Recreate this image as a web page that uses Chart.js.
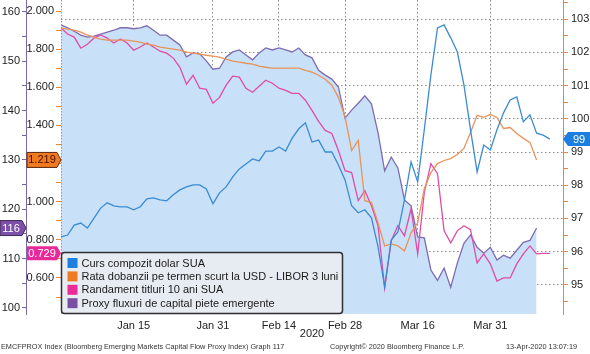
<!DOCTYPE html>
<html><head><meta charset="utf-8">
<script src="https://cdn.jsdelivr.net/npm/chart.js@4.4.0/dist/chart.umd.min.js"></script>
<style>html,body{margin:0;padding:0;background:#fff;overflow:hidden}#wrap{position:relative;width:590px;height:354px}</style>
</head><body><div id="wrap"><canvas id="c" width="590" height="354"></canvas></div>
<script>
// ---- categories (weekdays) ----
const dates = ["Dec 31","Jan 1","Jan 2","Jan 3","Jan 6","Jan 7","Jan 8","Jan 9","Jan 10","Jan 13","Jan 14","Jan 15","Jan 16","Jan 17","Jan 20","Jan 21","Jan 22","Jan 23","Jan 24","Jan 27","Jan 28","Jan 29","Jan 30","Jan 31","Feb 3","Feb 4","Feb 5","Feb 6","Feb 7","Feb 10","Feb 11","Feb 12","Feb 13","Feb 14","Feb 17","Feb 18","Feb 19","Feb 20","Feb 21","Feb 24","Feb 25","Feb 26","Feb 27","Feb 28","Mar 2","Mar 3","Mar 4","Mar 5","Mar 6","Mar 9","Mar 10","Mar 11","Mar 12","Mar 13","Mar 16","Mar 17","Mar 18","Mar 19","Mar 20","Mar 23","Mar 24","Mar 25","Mar 26","Mar 27","Mar 30","Mar 31","Apr 1","Apr 2","Apr 3","Apr 6","Apr 7","Apr 8","Apr 9","Apr 10","Apr 13","Apr 14","Apr 15"];
const tickLabels = ["Jan 15","Jan 31","Feb 14","Feb 28","Mar 16","Mar 31"];
const axisYearLabel = "2020";

// ---- series values ----
const usdIndex = [96.44,96.50,96.80,96.86,96.71,97.01,97.31,97.47,97.38,97.35,
97.35,97.26,97.35,97.59,97.62,97.56,97.53,97.71,97.86,97.95,
98.01,98.01,97.89,97.44,97.77,97.95,98.25,98.49,98.64,98.79,
98.73,99.03,99.03,99.15,99.03,99.42,99.70,99.88,99.30,99.36,
99.00,99.00,98.61,98.16,97.38,97.17,97.26,97.02,96.14,94.94,
96.35,96.59,97.56,98.70,98.10,99.67,101.32,102.74,102.83,102.44,
102.02,101.02,99.67,98.40,99.21,99.06,99.67,100.18,100.57,100.66,
99.91,100.12,99.57,99.51,99.39];
const libor3m = [1.911,1.905,1.900,1.889,1.874,1.863,1.853,1.847,1.847,1.847,
1.847,1.842,1.837,1.826,1.821,1.810,1.805,1.800,1.795,1.784,
1.779,1.774,1.768,1.763,1.758,1.747,1.737,1.732,1.726,1.721,
1.711,1.705,1.700,1.700,1.700,1.700,1.700,1.689,1.679,1.663,
1.642,1.611,1.547,1.447,1.268,1.321,1.005,0.995,0.889,0.768,
0.779,0.768,0.742,0.837,0.889,1.068,1.153,1.200,1.216,1.226,
1.247,1.279,1.363,1.453,1.442,1.458,1.442,1.384,1.389,1.358,
1.332,1.311,1.219];
const ust10y = [1.911,1.879,1.863,1.805,1.826,1.858,1.874,1.858,1.832,1.853,
1.832,1.795,1.811,1.832,1.811,1.789,1.779,1.753,1.705,1.616,
1.663,1.595,1.589,1.516,1.547,1.611,1.658,1.653,1.595,1.574,
1.605,1.637,1.621,1.595,1.584,1.568,1.568,1.532,1.479,1.421,
1.374,1.358,1.268,1.163,1.153,1.005,1.058,0.979,0.874,0.547,
0.795,0.874,0.821,0.963,0.726,1.047,1.200,1.147,0.847,0.784,
0.847,0.874,0.853,0.679,0.726,0.674,0.584,0.600,0.600,0.674,
0.726,0.768,0.726,0.729,0.729];
const emFlowProxy = [157.4,156.8,156.1,155.3,154.9,155.1,155.5,155.9,156.3,156.8,
156.8,156.6,156.8,157.2,156.3,155.3,155.3,154.3,153.3,150.9,
151.7,151.5,150.1,148.4,148.6,150.9,151.9,152.3,151.3,150.3,
151.7,152.7,152.3,152.7,152.3,151.9,152.7,151.3,150.7,148.2,
147.2,146.4,144.8,138.5,140.1,141.5,143.0,141.4,135.5,127.8,
130.6,128.4,121.9,120.7,114.4,114.2,107.7,105.6,108.1,104.2,
109.1,113.1,114.8,112.3,111.1,112.3,109.7,110.7,110.1,111.7,
113.3,113.7,116.2];
const seriesNames = ["Curs compozit dolar SUA","Rata dobanzii pe termen scurt la USD - LIBOR 3 luni","Randament titluri 10 ani SUA","Proxy fluxuri de capital piete emergente"];

// ---- axis tick values ----
const outerTicks = [100,105,110,115,120,125,130,135,140,145,150,155,160];
const innerTicks = [0.5,0.6,0.7,0.8,0.9,1.0,1.1,1.2,1.3,1.4,1.5,1.6,1.7,1.8,1.9,2.0];
const rightTicks = [94.5,95,95.5,96,96.5,97,97.5,98,98.5,99,99.5,100,100.5,101,101.5,102,102.5,103,103.5];

const footerLeft = "EMCFPROX Index (Bloomberg Emerging Markets Capital Flow Proxy Index) Graph 117";
const footerMid = "Copyright\u00A9 2020 Bloomberg Finance L.P.";
const footerRight = "13-Apr-2020 13:07:19";

const FONT = "'Liberation Sans', Arial, sans-serif";
Chart.defaults.font.family = FONT;
Chart.defaults.font.size = 11;
Chart.defaults.color = '#222';

const ORANGE_AX = '#e8873a';
const PURPLE_AX = '#7a68a6';
const GRID = '#8e8e8e';
const legendColors = ['#1d7fe0','#ee7a22','#ec2a98','#7a4fa2'];

function noPad(s){ s.paddingTop = 0; s.paddingBottom = 0; s.paddingLeft = 0; s.paddingRight = 0; }

function flag(ctx, x0, x1, tip, y, h, fill, stroke, txt, txtColor){
  ctx.save();
  ctx.beginPath();
  ctx.moveTo(x0, y-h/2); ctx.lineTo(x1, y-h/2); ctx.lineTo(tip, y);
  ctx.lineTo(x1, y+h/2); ctx.lineTo(x0, y+h/2); ctx.closePath();
  ctx.fillStyle = fill; ctx.fill();
  if (stroke){ ctx.strokeStyle = stroke; ctx.lineWidth = 1; ctx.stroke(); }
  ctx.fillStyle = txtColor; ctx.font = "11px " + FONT;
  ctx.textAlign = 'center'; ctx.textBaseline = 'middle';
  ctx.fillText(txt, (x0 + x1)/2, y+0.5);
  ctx.restore();
}

const overlay = {
  id: 'overlay',
  afterDatasetsDraw(chart){
    const ctx = chart.ctx, s = chart.scales.yIn;
    ctx.save();
    ctx.strokeStyle = ORANGE_AX; ctx.lineWidth = 1; ctx.setLineDash([1.5,1.5]);
    const x = Math.round(s.right) + 0.5;
    ctx.beginPath(); ctx.moveTo(x, s.top); ctx.lineTo(x, s.bottom); ctx.stroke();
    ctx.restore();
  },
  afterDraw(chart){
    const ctx = chart.ctx;
    const ca = chart.chartArea;
    // legend box
    ctx.save();
    const bx = ca.left + 0.5, by = 252.5, bw = 281, bh = 61;
    ctx.beginPath();
    if (ctx.roundRect) ctx.roundRect(bx, by, bw, bh, 3); else ctx.rect(bx, by, bw, bh);
    ctx.fillStyle = 'rgba(233,237,241,0.93)'; ctx.fill();
    ctx.strokeStyle = '#2e2e2e'; ctx.lineWidth = 1.5; ctx.stroke();
    ctx.font = "11px " + FONT; ctx.textBaseline = 'middle'; ctx.textAlign = 'left';
    chart.data.datasets.forEach((d, i) => {
      const cy = 263 + i*13.4;
      ctx.fillStyle = legendColors[i];
      ctx.fillRect(bx + 6, cy - 5, 10, 10);
      ctx.fillStyle = '#1a1a1a';
      ctx.fillText(d.label, bx + 20, cy + 0.5);
    });
    ctx.restore();

    // value flags
    const yIn = chart.scales.yIn, yOut = chart.scales.yOut, yR = chart.scales.yR;
    const lo = libor3m[libor3m.length-1], lp = ust10y[ust10y.length-1];
    const lu = usdIndex[usdIndex.length-1], le = emFlowProxy[emFlowProxy.length-1];
    const xi = yIn.right, xo = yOut.right, xr = yR.left;
    flag(ctx, yIn.left+1, xi-4, xi, yIn.getPixelForValue(lo), 15, '#f07a22', '#5a2a10', lo.toFixed(3), '#4a0e00');
    flag(ctx, yIn.left+1, xi-4, xi, yIn.getPixelForValue(lp), 14, '#e8299a', null, lp.toFixed(3), '#ffffff');
    flag(ctx, 0, xo-4, xo, yOut.getPixelForValue(le), 15, '#7d4fa8', '#3a2a50', String(Math.round(le)), '#ffffff');
    flag(ctx, 590, xr+5, xr, yR.getPixelForValue(lu), 14, '#1b7fe2', null, String(Math.round(lu)), '#ffffff');

    // footer
    ctx.save();
    ctx.font = "7.3px " + FONT; ctx.fillStyle = '#333'; ctx.textBaseline = 'middle';
    ctx.textAlign = 'left';
    ctx.fillText(footerLeft, 1, 347);
    ctx.fillText(footerMid, 330, 347);
    ctx.fillText(footerRight, 506, 347);
    ctx.restore();
  }
};

new Chart(document.getElementById('c').getContext('2d'), {
  type: 'line',
  data: {
    labels: dates,
    datasets: [
      {label: seriesNames[0], data: usdIndex, yAxisID: 'yR', borderColor: '#3a8bd3', borderWidth: 1.3, order: 1},
      {label: seriesNames[1], data: libor3m, yAxisID: 'yIn', borderColor: '#e8935a', borderWidth: 1.3, order: 2},
      {label: seriesNames[2], data: ust10y, yAxisID: 'yIn', borderColor: '#e14ca6', borderWidth: 1.3, order: 3},
      {label: seriesNames[3], data: emFlowProxy, yAxisID: 'yOut', borderColor: '#7f6bb0', borderWidth: 1.3,
       backgroundColor: '#c8e0f8', fill: 'start', order: 4}
    ]
  },
  options: {
    responsive: false, animation: false, devicePixelRatio: 1,
    layout: {padding: 0},
    elements: {point: {radius: 0}, line: {tension: 0}},
    plugins: {legend: {display: false}, tooltip: {enabled: false}},
    scales: {
      x: {
        type: 'category', offset: false,
        grid: {color: GRID, drawTicks: false, lineWidth: 1},
        border: {display: false, dash: [1.5, 2.5]},
        ticks: {autoSkip: false, maxRotation: 0, padding: 5, color: '#222', font: {size: 11}},
        title: {display: true, text: axisYearLabel, color: '#222', font: {size: 11}, padding: {top: 0, bottom: 13}},
        afterBuildTicks(s){ s.ticks = s.ticks.filter(t => tickLabels.includes(dates[t.value])); },
        afterFit(s){ s.height = 40; noPad(s); }
      },
      yOut: {
        position: 'left', weight: 1, bounds: 'data', min: 98.78, max: 162.43,
        afterBuildTicks(s){ s.ticks = outerTicks.map(v => ({value: v})); },
        ticks: {callback: v => (v % 10 === 0 ? String(v) : ''), padding: 2, color: '#222'},
        grid: {drawOnChartArea: false, tickLength: 4, tickColor: PURPLE_AX},
        border: {color: PURPLE_AX, width: 1},
        afterFit(s){ s.width = 26; noPad(s); }
      },
      yIn: {
        position: 'left', weight: 0, bounds: 'data', min: 0.411, max: 2.0577,
        afterBuildTicks(s){ s.ticks = innerTicks.map(v => ({value: v})); },
        ticks: {callback: v => (Math.round(v*10) % 2 === 0 ? v.toFixed(3) : ''), padding: 2, color: '#222'},
        grid: {drawOnChartArea: false, tickLength: 5, tickColor: ORANGE_AX},
        border: {display: false},
        afterFit(s){ s.width = 35; noPad(s); }
      },
      yR: {
        position: 'right', bounds: 'data', min: 94.12, max: 103.58,
        afterBuildTicks(s){ s.ticks = rightTicks.map(v => ({value: v})); },
        ticks: {callback: v => (Number.isInteger(v) ? String(v) : ''), padding: 3, color: '#222'},
        grid: {color: c => (c.tick && Number.isInteger(c.tick.value) ? GRID : 'rgba(0,0,0,0)'), tickColor: ORANGE_AX, tickLength: 5},
        border: {color: ORANGE_AX, width: 1, dash: [1.5, 2.5]},
        afterFit(s){ s.width = 27; noPad(s); }
      }
    }
  },
  plugins: [overlay]
});
</script>
</body></html>
